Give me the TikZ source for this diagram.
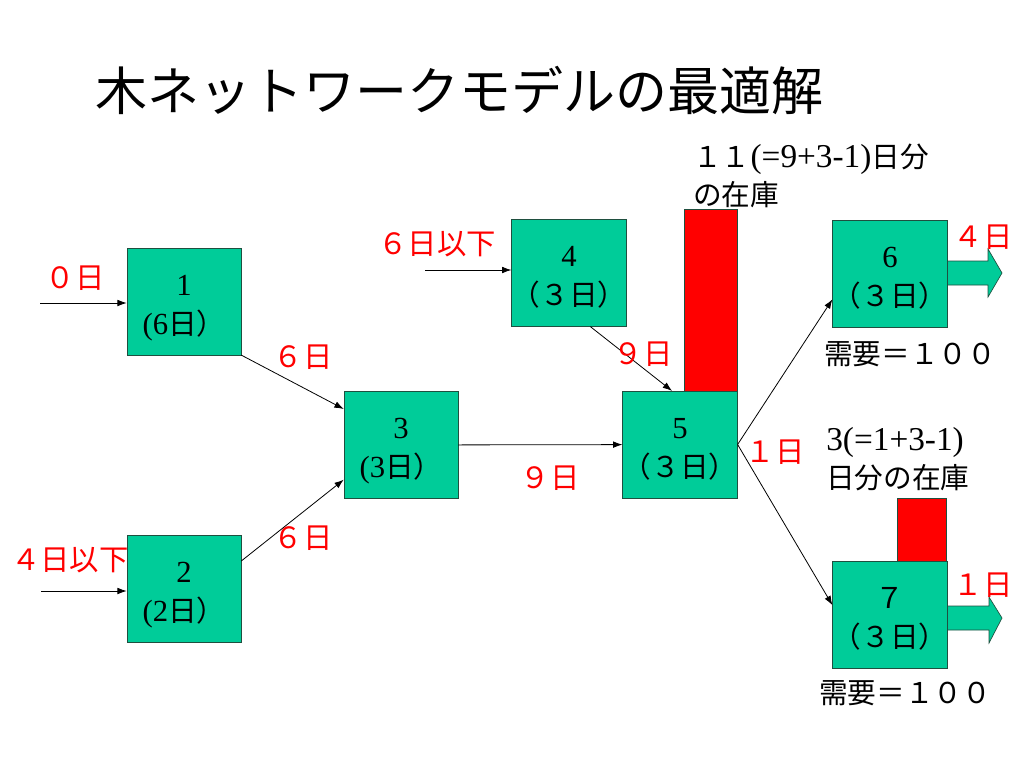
\documentclass[tikz,border=0pt]{standalone}
\usepackage{fontspec}
\setmainfont{Liberation Serif}
\newfontfamily\jp{Noto Sans CJK JP}
\usetikzlibrary{arrows.meta}

\definecolor{boxgreen}{HTML}{00CC99}
\definecolor{boxline}{HTML}{1F4F3F}
\newcommand\jsm{\jp\fontsize{21.5}{29.25}\selectfont}

\begin{document}
\begin{tikzpicture}
[x=0.75pt,y=-0.75pt,
 box/.style={draw=boxline,fill=boxgreen,minimum width=85.5pt,minimum height=80pt,
   align=center,inner sep=0pt,font=\fontsize{23}{29.25}\selectfont,
   text height=53.75pt,text depth=5pt},
 link/.style={-{Latex[length=7pt,width=5pt]},line width=0.6pt},
 redlabel/.style={text=red,font=\jp\fontsize{22}{24}\selectfont,inner sep=0pt},
 note/.style={font=\fontsize{25}{28.5}\selectfont,inner sep=0pt,align=left},
 demand/.style={inner sep=0pt,font=\jp\fontsize{21.5}{24}\selectfont},
 stock/.style={draw=boxline,fill=red,line width=0.5pt},
 outarrow/.style={draw=boxline,fill=boxgreen,line width=0.5pt}]
\useasboundingbox (0,0) rectangle (1024,768);

% title
\node[anchor=west,inner sep=0pt,font=\jp\fontsize{39}{44}\selectfont] (title) at (95,90) {木ネットワークモデルの最適解};

% stock bars
\draw[stock] (684,209) rectangle (737,391);
\draw[stock] (897,498) rectangle (946,561);

% outgoing block arrows
\draw[outarrow] (946,261) -- (988,261) -- (988,249) -- (1002,273) -- (988,297) -- (988,285) -- (946,285);
\draw[outarrow] (946,606) -- (989,606) -- (989,597) -- (1002,618) -- (989,643) -- (989,630) -- (946,630);

% activities
\node[box] (n1) at (184,301.5) {1\\(6{\jsm 日）}};
\node[box] (n2) at (184,589) {2\\(2{\jsm 日）}};
\node[box] (n3) at (401,445) {3\\(3{\jsm 日）}};
\node[box] (n4) at (569,273) {4\\{\jsm （３日）}};
\node[box] (n5) at (680,444.5) {5\\{\jsm （３日）}};
\node[box] (n6) at (890,274) {6\\{\jsm （３日）}};
\node[box] (n7) at (890,614.5) {{\jsm ７}\\{\jsm （３日）}};

% free ends of the inputs
\coordinate (in1) at (40,303);
\coordinate (in2) at (41,591);
\coordinate (in4) at (425,270);

\draw[link] (in1) -- (in1 -| n1.west);
\draw[link] (in2) -- (in2 -| n2.west);
\draw[link] (in4) -- (in4 -| n4.west);
\draw[link] (n1.south east) -- ([yshift=27pt]n3.west);
\draw[link] ([yshift=21pt]n2.east) -- ([yshift=-26pt]n3.west);
\draw[link] (n3) -- (n5);
\draw[link] ([xshift=16pt]n4.south) -- ([xshift=-6pt]n5.north);
\draw[link] (n5.east) -- ([yshift=-19pt]n6.west);
\draw[link] (n5.east) -- ([yshift=7pt]n7.west);

% lead times
\node[redlabel] (l1) at (75,278) {０日};
\node[redlabel] (l2) at (70,560) {４日以下};
\node[redlabel] (l4) at (437,244) {６日以下};
\node[redlabel] (l13) at (303,357) {６日};
\node[redlabel] (l23) at (303,538) {６日};
\node[redlabel] (l35) at (550,478) {９日};
\node[redlabel] (l45) at (643,354) {９日};
\node[redlabel] (l5) at (775,452) {１日};
\node[redlabel] (l6) at (983,237) {４日};
\node[redlabel] (l7) at (983,585) {１日};

% stock and demand notes
\node[note,anchor=base west] (s5) at (693,205) {{\jsm １１}(=9+3-1){\jsm 日分}\\{\jsm の在庫}};
\node[note,anchor=base west] (s7) at (826,488) {3(=1+3-1)\\{\jsm 日分の在庫}};
\node[demand] (d6) at (910,354) {需要＝１００};
\node[demand] (d7) at (905,693) {需要＝１００};
\end{tikzpicture}
\end{document}
